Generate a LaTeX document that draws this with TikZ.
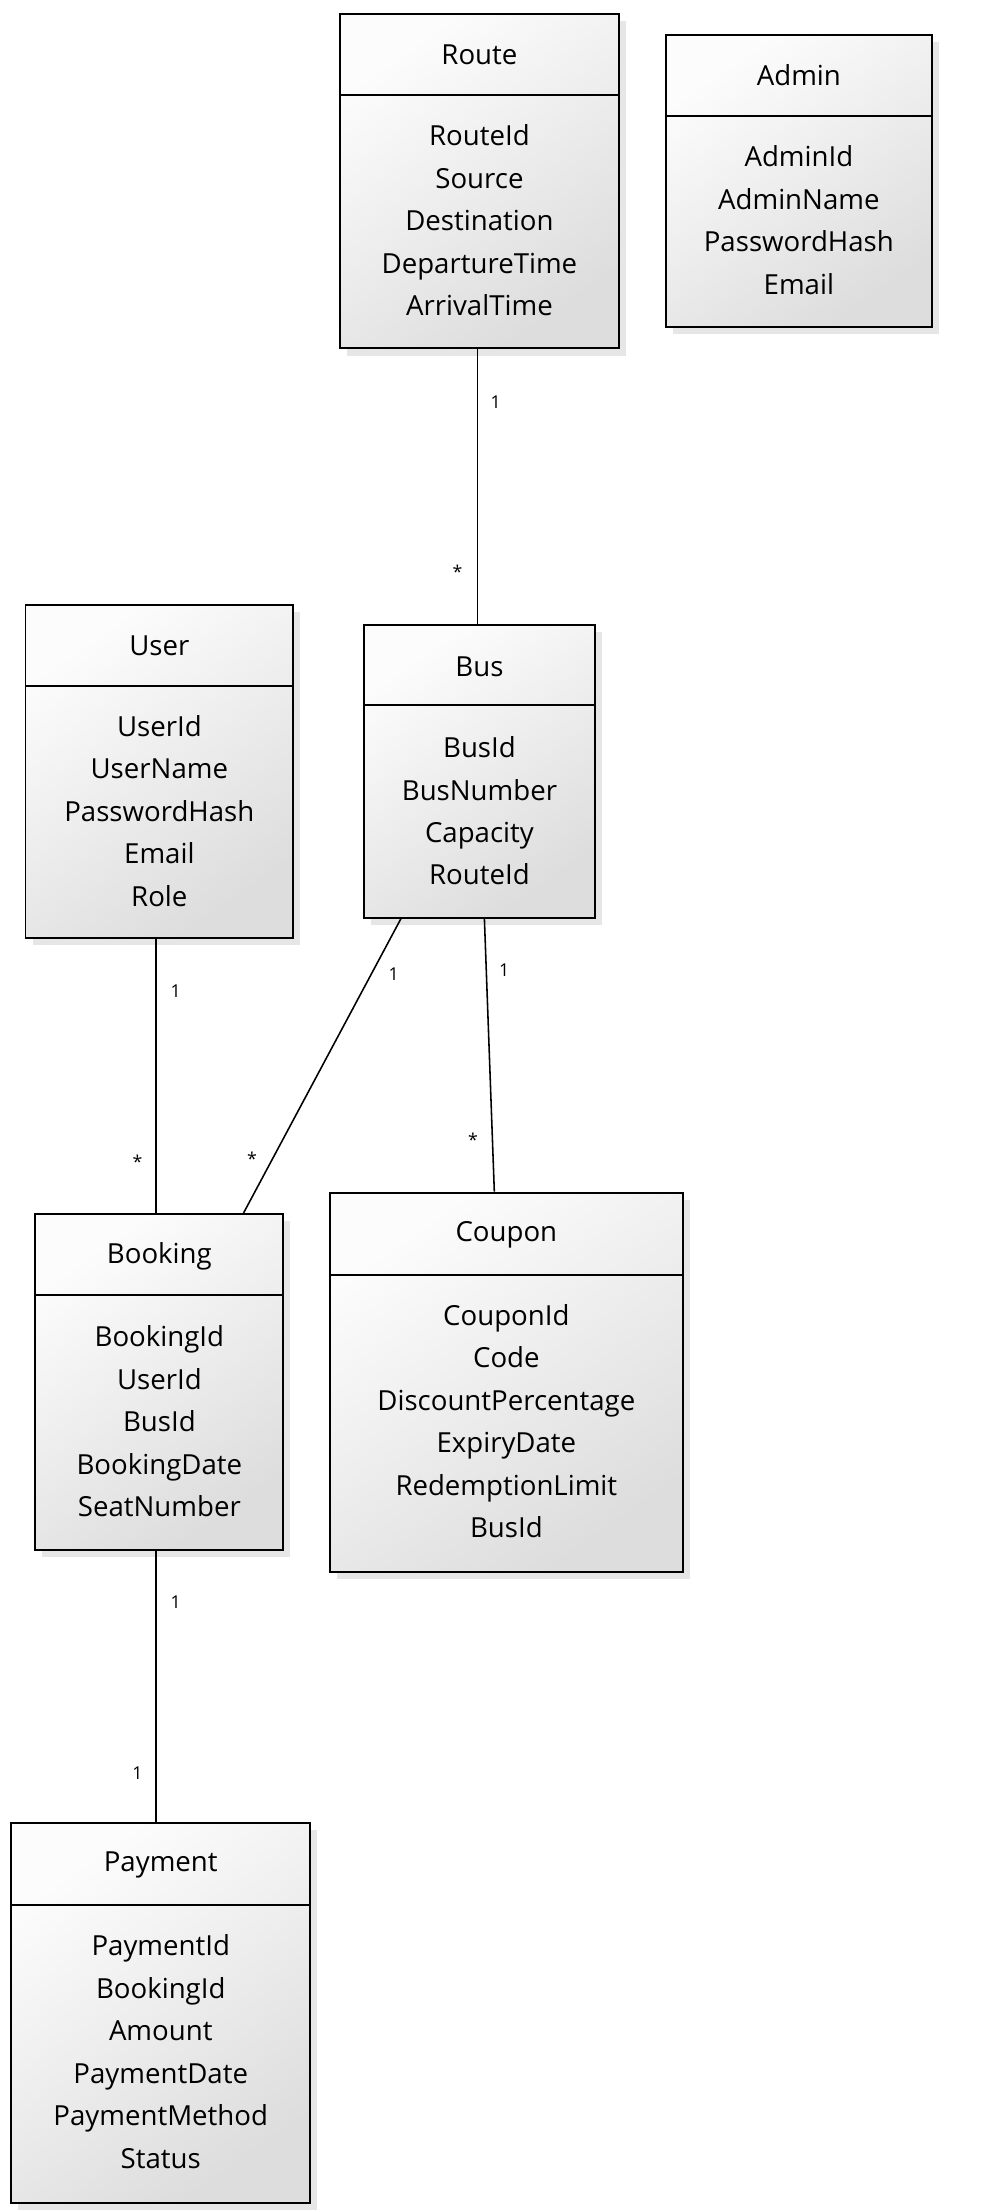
\documentclass[tikz,border=0pt]{standalone}
\usepackage{fontspec}
\setmainfont{Open Sans}
\usetikzlibrary{shadows}

\begin{document}
\begin{tikzpicture}[x=1pt,y=-1pt,
    classbox/.style={draw, line width=1.4pt, inner sep=0pt,
        top color=gray!2, bottom color=gray!27, shading angle=35,
        drop shadow={shadow xshift=5pt, shadow yshift=-5pt, opacity=0.2}},
    sepline/.style={line width=1.4pt},
    title/.style={font=\fontsize{19.5}{30}\selectfont},
    attrs/.style={align=center, font=\fontsize{19.5}{30}\selectfont},
    conn/.style={line width=1.1pt},
    mult/.style={font=\fontsize{12.5}{14}\selectfont}]
    \useasboundingbox (0,0) rectangle (698.25,1561);
    % classes
    \node[classbox, minimum width=197pt, minimum height=236pt] (route) at (338.5,128) {};
    \draw[sepline] (route.west |- 0,67) -- (route.east |- 0,67);
    \node[title] at (338.5,39) {Route};
    \node[attrs] at (338.5,155.5) {RouteId\\Source\\Destination\\DepartureTime\\ArrivalTime};
    \node[classbox, minimum width=188pt, minimum height=206pt] (admin) at (564,128) {};
    \draw[sepline] (admin.west |- 0,82) -- (admin.east |- 0,82);
    \node[title] at (564,53) {Admin};
    \node[attrs] at (564,155.5) {AdminId\\AdminName\\PasswordHash\\Email};
    \node[classbox, minimum width=189pt, minimum height=235pt] (user) at (112.5,544.5) {};
    \draw[sepline] (user.west |- 0,484) -- (user.east |- 0,484);
    \node[title] at (112.5,456) {User};
    \node[attrs] at (112.5,572.5) {UserId\\UserName\\PasswordHash\\Email\\Role};
    \node[classbox, minimum width=163pt, minimum height=207pt] (bus) at (338.5,544.5) {};
    \draw[sepline] (bus.west |- 0,498) -- (bus.east |- 0,498);
    \node[title] at (338.5,471) {Bus};
    \node[attrs] at (338.5,572.5) {BusId\\BusNumber\\Capacity\\RouteId};
    \node[classbox, minimum width=175pt, minimum height=237pt] (booking) at (112.5,975.5) {};
    \draw[sepline] (booking.west |- 0,914) -- (booking.east |- 0,914);
    \node[title] at (112.5,887) {Booking};
    \node[attrs] at (112.5,1003.5) {BookingId\\UserId\\BusId\\BookingDate\\SeatNumber};
    \node[classbox, minimum width=249pt, minimum height=268pt] (coupon) at (357.5,976) {};
    \draw[sepline] (coupon.west |- 0,900) -- (coupon.east |- 0,900);
    \node[title] at (357.5,872) {Coupon};
    \node[attrs] at (357.5,1003.5) {CouponId\\Code\\DiscountPercentage\\ExpiryDate\\RedemptionLimit\\BusId};
    \node[classbox, minimum width=211pt, minimum height=268pt] (payment) at (113.5,1421) {};
    \draw[sepline] (payment.west |- 0,1345) -- (payment.east |- 0,1345);
    \node[title] at (113.5,1317) {Payment};
    \node[attrs] at (113.5,1448.5) {PaymentId\\BookingId\\Amount\\PaymentDate\\PaymentMethod\\Status};
    % associations
    \draw[conn] (route.south -| 337,0) -- (bus.north -| 337,0);
    \node[mult] at (350,284) {1};
    \node[mult] at (323,404) {*};
    \draw[conn] (user.south -| 110,0) -- (booking.north -| 110,0);
    \node[mult] at (124,700) {1};
    \node[mult] at (97,820) {*};
    \draw[conn] (bus.south -| 283,0) -- (booking.north -| 172,0);
    \node[mult] at (278,688) {1};
    \node[mult] at (178,818) {*};
    \draw[conn] (bus.south -| 342,0) -- (coupon.north -| 349,0);
    \node[mult] at (356,685) {1};
    \node[mult] at (334,805) {*};
    \draw[conn] (booking.south -| 110,0) -- (payment.north -| 110,0);
    \node[mult] at (124,1131) {1};
    \node[mult] at (97,1252) {1};
\end{tikzpicture}
\end{document}
